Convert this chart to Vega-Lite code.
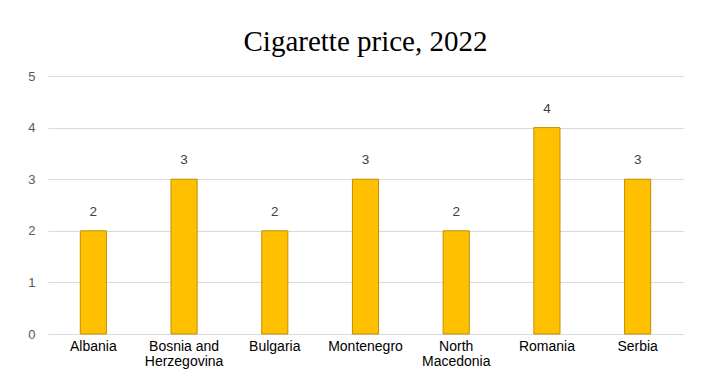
{
  "$schema": "https://vega.github.io/schema/vega-lite/v6.json",
  "width": 704,
  "height": 374,
  "autosize": {"type": "fit", "contains": "padding"},
  "padding": {"left": 27, "top": 28, "right": 21, "bottom": 6},
  "background": "white",
  "title": {
    "text": "Cigarette price, 2022",
    "font": "Liberation Serif",
    "fontSize": 29,
    "fontWeight": "normal",
    "color": "#000000",
    "anchor": "middle",
    "offset": 13
  },
  "data": {
    "values": [
      {"country": "Albania", "price": 2},
      {"country": "Bosnia and Herzegovina", "price": 3},
      {"country": "Bulgaria", "price": 2},
      {"country": "Montenegro", "price": 3},
      {"country": "North Macedonia", "price": 2},
      {"country": "Romania", "price": 4},
      {"country": "Serbia", "price": 3}
    ]
  },
  "encoding": {
    "x": {
      "field": "country",
      "type": "nominal",
      "sort": null,
      "title": null,
      "axis": {
        "labelAngle": 0,
        "labelFont": "Liberation Sans",
        "labelFontSize": 14,
        "labelColor": "#000000",
        "labelPadding": 5,
        "labelLineHeight": 15,
        "labelBaseline": "top",
        "ticks": false,
        "domainColor": "#d9d9d9",
        "labelExpr": "datum.label == 'Bosnia and Herzegovina' ? ['Bosnia and', 'Herzegovina'] : datum.label == 'North Macedonia' ? ['North', 'Macedonia'] : datum.label"
      }
    },
    "y": {
      "field": "price",
      "type": "quantitative",
      "title": null,
      "scale": {"domain": [0, 5]},
      "axis": {
        "values": [0, 1, 2, 3, 4, 5],
        "labelFont": "Liberation Sans",
        "labelFontSize": 13,
        "labelColor": "#595959",
        "labelPadding": 13,
        "ticks": false,
        "domain": false,
        "gridColor": "#d9d9d9",
        "gridWidth": 1
      }
    }
  },
  "layer": [
    {
      "mark": {"type": "bar", "width": {"band": 0.32}, "fill": "#FFC000", "stroke": "#BF9000", "strokeWidth": 1}
    },
    {
      "mark": {"type": "text", "dy": -12, "baseline": "bottom", "font": "Liberation Sans", "fontSize": 13.5, "color": "#404040"},
      "encoding": {"text": {"field": "price", "type": "quantitative"}}
    }
  ],
  "config": {"view": {"stroke": null}}
}
